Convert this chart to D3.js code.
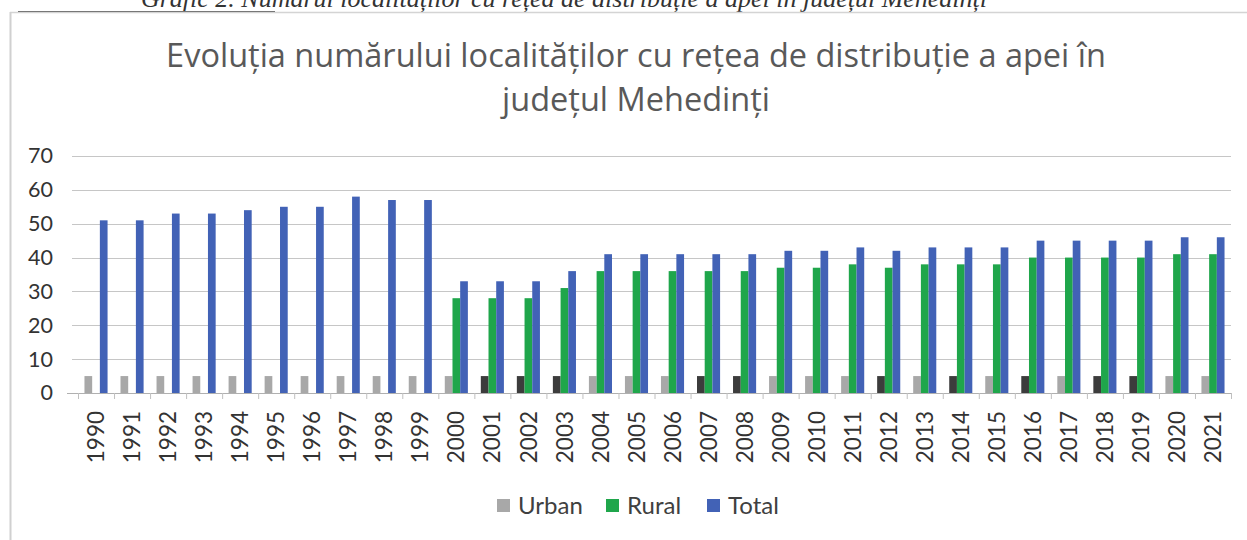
<!DOCTYPE html>
<meta charset="utf-8">
<head>
<style>
  body { margin: 0; background: #fff; }
  svg { display: block; }
</style>
</head>
<body>
    <!-- Load d3.js -->
    <script src="https://d3js.org/d3.v7.min.js"></script>

    <!-- Create a div where the graph will take place -->
    <div id="my_dataviz"></div>

<script>
    // data
    const years = ["1990","1991","1992","1993","1994","1995","1996","1997","1998","1999",
                   "2000","2001","2002","2003","2004","2005","2006","2007","2008","2009",
                   "2010","2011","2012","2013","2014","2015","2016","2017","2018","2019",
                   "2020","2021"];
    const urban = [5,5,5,5,5,5,5,5,5,5, 5,5,5,5,5,5,5,5,5,5, 5,5,5,5,5,5,5,5,5,5, 5,5];
    const rural = [null,null,null,null,null,null,null,null,null,null,
                   28,28,28,31,36,36,36,36,36,37, 37,38,37,38,38,38,40,40,40,40, 41,41];
    const total = [51,51,53,53,54,55,55,58,57,57, 33,33,33,36,41,41,41,41,41,42,
                   42,43,42,43,43,43,45,45,45,45, 46,46];
    const seriesNames = ["Urban", "Rural", "Total"];
    const yTicks = [0, 10, 20, 30, 40, 50, 60, 70];
    // urban bars that came out dark in the scan
    const darkUrban = ["2001","2002","2003","2007","2008","2012","2014","2016","2018","2019"];

    const W = 1247, H = 540;
    const color = d3.scaleOrdinal()
      .domain(seriesNames)
      .range(["#a8a8a8", "#1fa64b", "#4262b6"]);

    const svg = d3.select("#my_dataviz")
      .append("svg")
        .attr("width", W)
        .attr("height", H);

    svg.append("rect").attr("width", W).attr("height", H).attr("fill", "#fff");

    // caption above the chart (cut off at the top of the page, as in the scan)
    svg.append("text")
      .attr("x", 564).attr("y", 7)
      .attr("text-anchor", "middle")
      .style("font-family", "'Liberation Serif', serif")
      .style("font-style", "italic")
      .style("font-size", "26px")
      .style("fill", "#333")
      .text("Grafic 2. Numărul localităților cu rețea de distribuție a apei în județul Mehedinți");

    // chart frame
    svg.append("line").attr("x1", 10).attr("x2", W).attr("y1", 12.5).attr("y2", 12.5)
      .attr("stroke", "#d4d4d4").attr("stroke-width", 1.5);
    svg.append("line").attr("x1", 18).attr("x2", 275).attr("y1", 11.5).attr("y2", 11.5)
      .attr("stroke", "#777").attr("stroke-width", 1);
    svg.append("line").attr("x1", 10.5).attr("x2", 10.5).attr("y1", 12).attr("y2", H)
      .attr("stroke", "#d0d0d0").attr("stroke-width", 2);

    // title
    const title = svg.append("text")
      .attr("text-anchor", "middle")
      .style("font-family", "'Open Sans', sans-serif")
      .style("font-size", "32.5px")
      .style("fill", "#595959");
    title.append("tspan").attr("x", 636).attr("y", 67)
      .text("Evoluția numărului localităților cu rețea de distribuție a apei în");
    title.append("tspan").attr("x", 636).attr("y", 111)
      .text("județul Mehedinți");

    // scales
    const x = d3.scaleBand()
      .domain(years)
      .range([78, 1231]);
    const xs = d3.scaleBand()
      .domain(seriesNames)
      .range([0, x.bandwidth()])
      .paddingOuter(0.84);
    const y = d3.scaleLinear()
      .domain([0, 70])
      .range([393, 156]);

    // gridlines
    svg.append("g")
      .selectAll("line")
      .data(yTicks.filter(d => d > 0))
      .join("line")
        .attr("x1", 72).attr("x2", 1231)
        .attr("y1", d => Math.round(y(d)) + 0.5)
        .attr("y2", d => Math.round(y(d)) + 0.5)
        .attr("stroke", "#c6c6c6")
        .attr("stroke-width", 1.2);

    // Y axis labels
    const yAxis = svg.append("g")
      .attr("transform", "translate(53,0)")
      .call(d3.axisLeft(y).tickValues(yTicks).tickSize(0).tickPadding(0));
    yAxis.select(".domain").remove();
    yAxis.selectAll("text")
      .style("font-family", "Lato, 'Open Sans', sans-serif")
      .style("font-size", "21.5px")
      .style("fill", "#333");

    // bars
    const rows = years.map((yr, i) => ({year: yr, values: [
      {key: "Urban", v: urban[i]},
      {key: "Rural", v: rural[i]},
      {key: "Total", v: total[i]}
    ]}));

    svg.append("g")
      .selectAll("g")
      .data(rows)
      .join("g")
        .attr("transform", d => `translate(${x(d.year)},0)`)
      .selectAll("rect")
      .data(d => d.values.filter(e => e.v != null).map(e => Object.assign({year: d.year}, e)))
      .join("rect")
        .attr("x", d => xs(d.key))
        .attr("y", d => y(d.v))
        .attr("width", xs.bandwidth())
        .attr("height", d => y(0) - y(d.v))
        .attr("fill", d => (d.key === "Urban" && darkUrban.includes(d.year)) ? "#3c3c3c" : color(d.key));

    // X axis line and ticks
    svg.append("line")
      .attr("x1", 67).attr("x2", 1231).attr("y1", 393.5).attr("y2", 393.5)
      .attr("stroke", "#b0b0b0").attr("stroke-width", 1.2);
    svg.append("g")
      .selectAll("line")
      .data(years.concat(["end"]))
      .join("line")
        .attr("x1", (d, i) => 78 + i * x.step() + 0.5)
        .attr("x2", (d, i) => 78 + i * x.step() + 0.5)
        .attr("y1", 393).attr("y2", 399)
        .attr("stroke", "#c0c0c0");

    // X labels
    svg.append("g")
      .selectAll("text")
      .data(years)
      .join("text")
        .attr("transform", d => `translate(${x(d) + x.bandwidth() / 2},411) rotate(-90)`)
        .attr("dy", "0.36em")
        .attr("text-anchor", "end")
        .style("font-family", "Lato, 'Open Sans', sans-serif")
        .style("font-size", "22.5px")
        .style("fill", "#333")
        .text(d => d);

    // legend
    const legendX = [497, 606, 707];
    const legend = svg.append("g")
      .selectAll("g")
      .data(seriesNames)
      .join("g")
        .attr("transform", (d, i) => `translate(${legendX[i]},499)`);
    legend.append("rect")
      .attr("width", 13).attr("height", 13)
      .attr("fill", d => color(d));
    legend.append("text")
      .attr("x", 21).attr("y", 15)
      .style("font-family", "Lato, 'Open Sans', sans-serif")
      .style("font-size", "24px")
      .style("fill", "#404040")
      .text(d => d);
</script>
</body>
